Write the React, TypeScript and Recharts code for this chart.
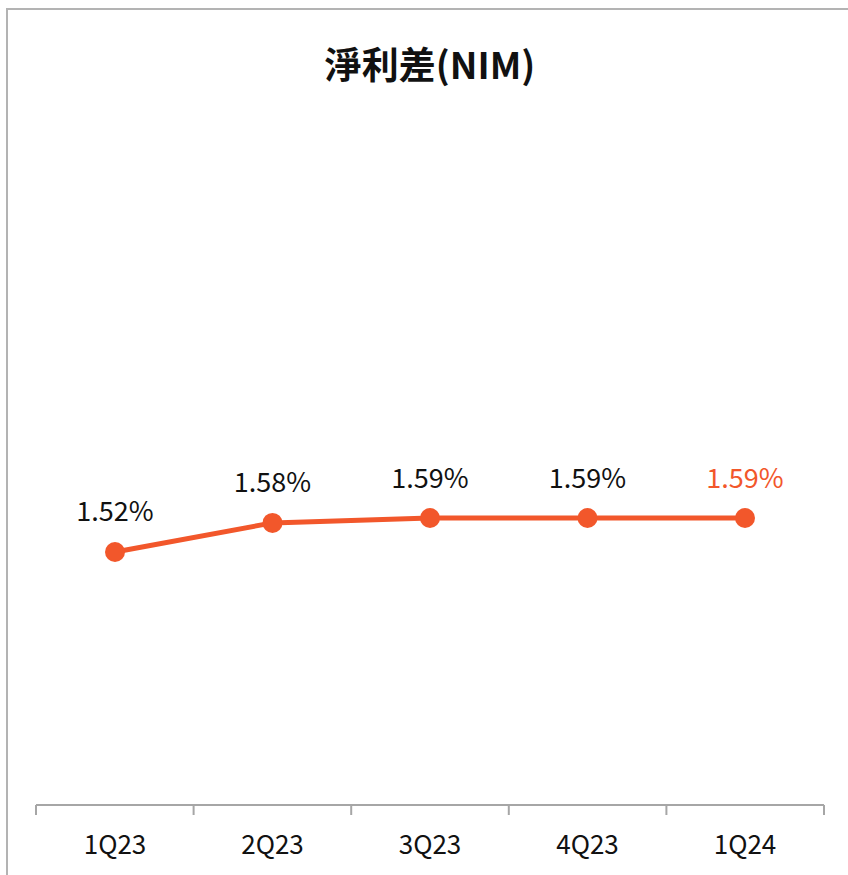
import { LineChart, Line, XAxis, YAxis, LabelList } from "recharts";

const QUARTERS = ["1Q23", "2Q23", "3Q23", "4Q23", "1Q24"];
const NIM = [1.52, 1.58, 1.59, 1.59, 1.59];
const BOUNDARY_TICKS = [0, 1, 2, 3, 4, 5];

const ORANGE = "#F2572B";
const AXIS_COLOR = "#a6a6a6";
const FONT = "'Noto Sans CJK TC', 'Noto Sans', sans-serif";

// slot = centre of each category band on the 0..5 frame axis
const data = QUARTERS.map((q, i) => ({ quarter: q, slot: i + 0.5, nim: NIM[i] }));

function NimLabel(props: any) {
  const { x, y, value, index } = props;
  const isLast = index === NIM.length - 1;
  return (
    <text
      x={x}
      y={y - 42}
      textAnchor="middle"
      dominantBaseline="central"
      fontSize={27}
      fontFamily={FONT}
      fill={isLast ? ORANGE : "#111"}
    >
      {Number(value).toFixed(2)}%
    </text>
  );
}

const NoTick = () => <g />;

export default function App() {
  return (
    <div style={{ position: "fixed", left: 0, top: 0, width: 848, height: 875, overflow: "hidden", background: "#fff" }}>
      <div
        style={{
          position: "absolute",
          left: 6,
          top: 8,
          width: 900,
          height: 900,
          borderTop: "2px solid #b3b3b3",
          borderLeft: "2px solid #b3b3b3",
        }}
      />
      <div
        style={{
          position: "absolute",
          left: 36,
          width: 788,
          top: 38,
          textAlign: "center",
          fontFamily: FONT,
          fontWeight: 700,
          fontSize: 37,
          color: "#111",
          lineHeight: "50px",
        }}
      >
        淨利差(NIM)
      </div>
      <div style={{ position: "absolute", left: 0, top: 0 }}>
        <LineChart width={848} height={875} data={data} margin={{ top: 77, right: 24, bottom: 11, left: 36 }}>
          <XAxis
            xAxisId="frame"
            dataKey="slot"
            type="number"
            domain={[0, 5]}
            ticks={BOUNDARY_TICKS}
            tick={NoTick}
            tickSize={10}
            axisLine={{ stroke: AXIS_COLOR, strokeWidth: 2 }}
            tickLine={{ stroke: AXIS_COLOR, strokeWidth: 2 }}
            interval={0}
            height={59}
          />
          <XAxis
            dataKey="quarter"
            axisLine={false}
            tickLine={false}
            height={1}
            padding={{ left: 79, right: 79 }}
            tick={{ fontSize: 26, fill: "#111", fontFamily: FONT }}
            tickMargin={26}
            interval={0}
          />
          <YAxis hide domain={[1.0, 2.5]} />
          <Line
            xAxisId="frame"
            dataKey="nim"
            stroke="none"
            dot={false}
            activeDot={false}
            isAnimationActive={false}
          />
          <Line
            dataKey="nim"
            stroke={ORANGE}
            strokeWidth={5}
            dot={{ r: 10, fill: ORANGE, stroke: ORANGE, strokeWidth: 0 }}
            activeDot={false}
            isAnimationActive={false}
          >
            <LabelList dataKey="nim" content={NimLabel} />
          </Line>
        </LineChart>
      </div>
    </div>
  );
}
